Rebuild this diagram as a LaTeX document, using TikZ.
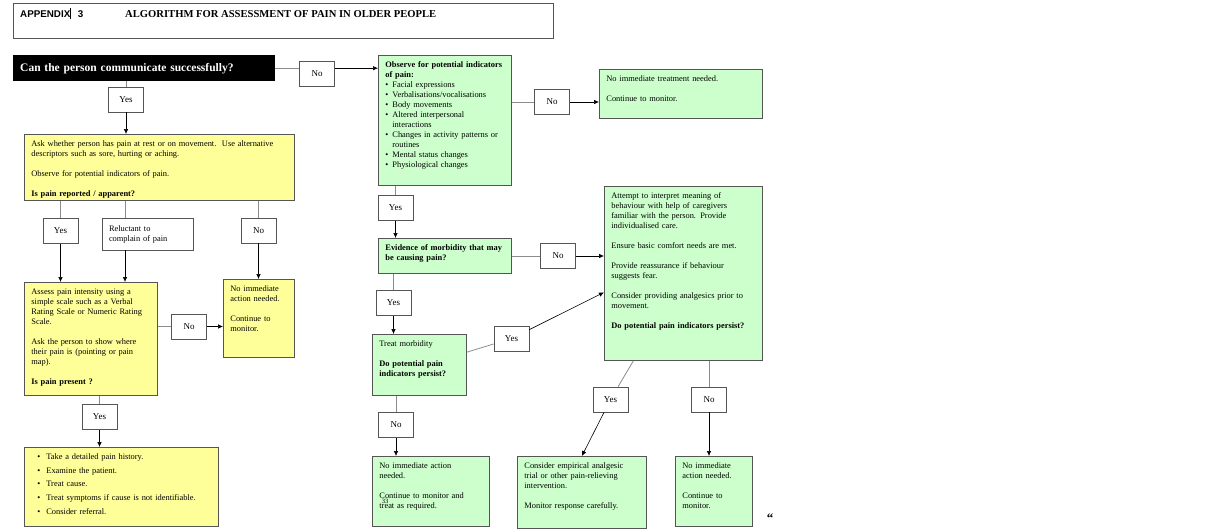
\documentclass[tikz,border=0pt]{standalone}
\usepackage{fontspec}
\setmainfont{Liberation Serif}
\newfontfamily\arialfont{Liberation Sans}
\usetikzlibrary{arrows.meta,calc}

\definecolor{boxyellow}{HTML}{FFFF99}
\definecolor{boxgreen}{HTML}{CCFFCC}
\definecolor{bordgray}{HTML}{555555}
\definecolor{linegray}{HTML}{8C8C8C}

\newcommand{\bul}{\makebox[7pt][l]{\textbullet}}
\newcommand{\ind}{\hspace*{7pt}}
\newcommand{\lbul}{\hspace*{6pt}\makebox[9pt][l]{\textbullet}}

\tikzset{
  box/.style={draw=bordgray, line width=0.8pt, anchor=north west, inner xsep=7pt, inner ysep=4.5pt,
    text height=7.5pt, align=left, font=\fontsize{8.4}{10}\selectfont},
  ybox/.style={box, fill=boxyellow},
  gbox/.style={box, fill=boxgreen},
  lbl/.style={draw=bordgray, line width=0.7pt, fill=white, minimum width=35pt, minimum height=25pt,
    inner sep=2pt, font=\fontsize{9}{10}\selectfont},
  gline/.style={linegray, line width=0.8pt},
  arr/.style={black, line width=0.6pt, -{Latex[length=5pt,width=4.5pt]}}
}

\begin{document}
\begin{tikzpicture}[x=1pt, y=-1pt]
\useasboundingbox (0,0) rectangle (1232,530);

% header
\node[draw=bordgray, line width=0.8pt, anchor=north west, minimum width=540pt, minimum height=35pt] (hdr) at (13,3) {};
\node[anchor=base west, inner sep=0pt, font=\arialfont\bfseries\fontsize{9.8}{11}\selectfont] (app) at (20,17)
  {APPENDIX\rule[-2pt]{0.5pt}{11pt}\hspace{7pt}3};
\node[anchor=base west, inner sep=0pt, font=\bfseries\fontsize{10.6}{12}\selectfont] (ttl) at (125,17)
  {ALGORITHM FOR ASSESSMENT OF PAIN IN OLDER PEOPLE};

% left column
\node[anchor=north west, fill=black, text=white, minimum width=262pt, minimum height=26pt, text width=248pt,
  inner xsep=7pt, align=left, font=\bfseries\fontsize{11.5}{13}\selectfont] (blk) at (13,55)
  {Can the person communicate successfully?};

\node[ybox, text width=256pt, text depth=49.5pt] (y1) at (24,134)
  {Ask whether person has pain at rest or on movement.\ \ Use alternative\\
   descriptors such as sore, hurting or aching.\\[10pt]
   Observe for potential indicators of pain.\\[10pt]
   \textbf{Is pain reported / apparent?}};
\node[ybox, text width=119pt, text depth=96.5pt] (y2) at (24,282)
  {Assess pain intensity using a\\
   simple scale such as a Verbal\\
   Rating Scale or Numeric Rating\\
   Scale.\\[10pt]
   Ask the person to show where\\
   their pain is (pointing or pain\\
   map).\\[10pt]
   \textbf{Is pain present ?}};
\node[ybox, text width=57pt, text depth=61.5pt] (y3) at (223,279)
  {No immediate\\action needed.\\[10pt]Continue to\\monitor.};
\node[ybox, text width=180pt, text depth=62.5pt, font=\fontsize{8.4}{13.7}\selectfont] (y4) at (24,447)
  {\lbul Take a detailed pain history.\\
   \lbul Examine the patient.\\
   \lbul Treat cause.\\
   \lbul Treat symptoms if cause is not identifiable.\\
   \lbul Consider referral.};

% right part
\node[gbox, text width=119pt, text depth=113.5pt] (g1) at (378,55)
  {\textbf{Observe for potential indicators}\\
   \textbf{of pain:}\\
   \bul Facial expressions\\
   \bul Verbalisations/vocalisations\\
   \bul Body movements\\
   \bul Altered interpersonal\\
   \ind interactions\\
   \bul Changes in activity patterns or\\
   \ind routines\\
   \bul Mental status changes\\
   \bul Physiological changes};
\node[gbox, text width=149pt, text depth=32.5pt] (g2) at (599,69)
  {No immediate treatment needed.\\[10pt]Continue to monitor.};
\node[gbox, text width=119pt, text depth=18.5pt] (ev) at (378,238)
  {\textbf{Evidence of morbidity that may}\\\textbf{be causing pain?}};
\node[gbox, text width=144pt, text depth=157.5pt] (bg) at (604,186)
  {Attempt to interpret meaning of\\
   behaviour with help of caregivers\\
   familiar with the person. Provide\\
   individualised care.\\[10pt]
   Ensure basic comfort needs are met.\\[10pt]
   Provide reassurance if behaviour\\
   suggests fear.\\[10pt]
   Consider providing analgesics prior to\\
   movement.\\[10pt]
   \textbf{Do potential pain indicators persist?}};
\node[gbox, text width=80pt, text depth=44.5pt] (tr) at (372,334)
  {Treat morbidity\\[10pt]\textbf{Do potential pain}\\\textbf{indicators persist?}};
\node[gbox, text width=103pt, text depth=53.5pt] (b1) at (372,456)
  {No immediate action\\needed.\\[10pt]Continue to monitor and\\treat as required.};
\node[gbox, text width=115pt, text depth=55.5pt] (b2) at (517,456)
  {Consider empirical analgesic\\trial or other pain-relieving\\intervention.\\[10pt]Monitor response carefully.};
\node[gbox, text width=63pt, text depth=53.5pt] (b3) at (675,456)
  {No immediate\\action needed.\\[10pt]Continue to\\monitor.};

% labels
\node[lbl] (ly0) at (126,99.5) {Yes};
\node[lbl] (ln0) at (317,74) {No};
\node[lbl] (ln1) at (552,102) {No};
\node[lbl] (ly1) at (60.5,231) {Yes};
\node[lbl, minimum width=91pt, minimum height=32pt, text width=77pt, inner xsep=7pt, align=left,
  font=\fontsize{8.4}{10}\selectfont] (lrel) at (147.5,234) {Reluctant to\\complain of pain};
\node[lbl] (ln2) at (258.5,230.5) {No};
\node[lbl] (ln3) at (189,326.5) {No};
\node[lbl] (ly2) at (99.5,417) {Yes};
\node[lbl] (ly3) at (395.5,208) {Yes};
\node[lbl] (ln4) at (558,256) {No};
\node[lbl] (ly4) at (393.5,303) {Yes};
\node[lbl] (ly5) at (511.5,338.5) {Yes};
\node[lbl] (ln5) at (396,425) {No};
\node[lbl] (ly6) at (610.5,399.5) {Yes};
\node[lbl] (ln6) at (709,399.5) {No};

\coordinate (rx) at (125,0);

% connectors
\draw[gline] (blk.east) -- (blk.east -| ln0.west);
\draw[arr] (blk.east -| ln0.east) -- (blk.east -| g1.west);
\draw[gline] (ly0 |- blk.south) -- (ly0);
\draw[arr] (ly0) -- (ly0 |- y1.north);
\draw[gline] (ln1 -| g1.east) -- (ln1);
\draw[arr] (ln1) -- (ln1 -| g2.west);

\draw[gline] (ly1 |- y1.south) -- (ly1);
\draw[arr] (ly1) -- (ly1 |- y2.north);
\draw[gline] (rx |- y1.south) -- (rx |- lrel.north);
\draw[arr] (rx |- lrel.south) -- (rx |- y2.north);
\draw[gline] (ln2 |- y1.south) -- (ln2);
\draw[arr] (ln2) -- (ln2 |- y3.north);
\draw[gline] (ln3 -| y2.east) -- (ln3);
\draw[arr] (ln3) -- (ln3 -| y3.west);
\draw[gline] (ly2 |- y2.south) -- (ly2);
\draw[arr] (ly2) -- (ly2 |- y4.north);

\draw[gline] (ly3 |- g1.south) -- (ly3);
\draw[arr] (ly3) -- (ly3 |- ev.north);
\draw[gline] (ln4 -| ev.east) -- (ln4);
\draw[arr] (ln4) -- (ln4 -| bg.west);
\draw[gline] (ly4 |- ev.south) -- (ly4);
\draw[arr] (ly4) -- (ly4 |- tr.north);
\draw[gline] (tr.15) -- (ly5);
\draw[arr] (ly5) -- ([yshift=-19pt]bg.west);
\draw[gline] (ln5 |- tr.south) -- (ln5);
\draw[arr] (ln5) -- (ln5 |- b1.north);
\draw[gline] ([xshift=-50pt]bg.south) -- (ly6);
\draw[arr] (ly6) -- (b2.north);
\draw[gline] (ln6 |- bg.south) -- (ln6);
\draw[arr] (ln6) -- (ln6 |- b3.north);

% stray marks of the page
\node[font=\fontsize{6.5}{7}\selectfont] (pg) at (385,501) {33};
\node[font=\bfseries\fontsize{13}{13}\selectfont] (qm) at (770,518) {\textquotedblleft};
\end{tikzpicture}
\end{document}
